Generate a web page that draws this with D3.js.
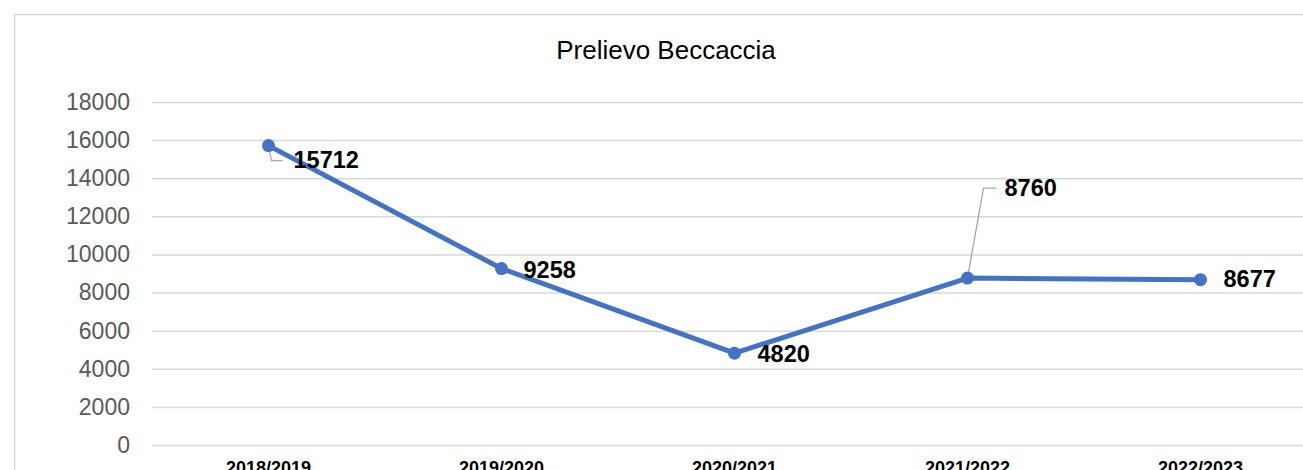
<!DOCTYPE html>
<html>
<head>
<meta charset="utf-8">
<script src="https://cdn.jsdelivr.net/npm/d3@7"></script>
<style>
  body { margin: 0; background: #fff; }
  svg { display: block; font-family: "Liberation Sans", Arial, sans-serif; }
</style>
</head>
<body>
<script>
// data
const seasons = ['2018/2019', '2019/2020', '2020/2021', '2021/2022', '2022/2023'];
const prelievo = [15712, 9258, 4820, 8760, 8677];
const yTicks = [0, 2000, 4000, 6000, 8000, 10000, 12000, 14000, 16000, 18000];

// label placement (pixel offsets from each point)
const labelDx = [25, 22, 23, 37, 23];
const labelDy = [22, 9.5, 9, -82, 7.5];

const W = 1303, H = 470;
const svg = d3.select('body')
  .append('svg')
    .attr('width', W)
    .attr('height', H);

const margin = {top: 102, left: 152, bottom: 25};
const plotW = 1165;
const plotH = 343;

// chart frame
svg.append('rect')
  .attr('x', 14.5).attr('y', 14.5)
  .attr('width', 1340).attr('height', 500)
  .attr('fill', 'none')
  .attr('stroke', '#d9d9d9')
  .attr('stroke-width', 1.5);

svg.append('text')
  .attr('x', 666).attr('y', 59)
  .attr('text-anchor', 'middle')
  .attr('font-size', 26)
  .attr('fill', '#000')
  .text('Prelievo Beccaccia');

const x = d3.scaleBand()
  .domain(seasons)
  .range([margin.left, margin.left + plotW]);

const y = d3.scaleLinear()
  .domain([0, 18000])
  .range([margin.top + plotH, margin.top]);

const cx = (d, i) => x(seasons[i]) + x.bandwidth() / 2;

// gridlines + y labels
const yAxis = svg.append('g')
  .attr('transform', 'translate(' + margin.left + ',0)')
  .call(d3.axisLeft(y).tickValues(yTicks).tickFormat(d3.format('d')).tickSize(-plotW).tickPadding(22));
yAxis.select('.domain').remove();
yAxis.selectAll('line').attr('stroke', '#d9d9d9').attr('stroke-width', 1.5);
yAxis.selectAll('text')
  .attr('font-size', 23)
  .attr('font-family', '"Liberation Sans", Arial, sans-serif')
  .attr('fill', '#595959');

// x labels
const xAxis = svg.append('g')
  .attr('transform', 'translate(0,' + (margin.top + plotH) + ')')
  .call(d3.axisBottom(x).tickSize(0).tickPadding(16));
xAxis.select('.domain').remove();
xAxis.selectAll('text')
  .attr('font-size', 18)
  .attr('font-weight', 'bold')
  .attr('font-family', '"Liberation Sans", Arial, sans-serif')
  .attr('fill', '#000');

// line
const line = d3.line()
  .x((d, i) => cx(d, i))
  .y(d => y(d));

svg.append('path')
  .datum(prelievo)
  .attr('d', line)
  .attr('fill', 'none')
  .attr('stroke', '#4472c4')
  .attr('stroke-width', 5)
  .attr('stroke-linejoin', 'round');

// leader lines for the two displaced labels
const leaders = svg.append('g').attr('fill', 'none').attr('stroke', '#a6a6a6').attr('stroke-width', 1.3);
leaders.append('path')
  .attr('d', () => {
    const px = cx(0, 0), py = y(prelievo[0]);
    return 'M' + (px + 1) + ',' + (py + 6) + 'L' + (px + 3) + ',' + (py + 15) + 'L' + (px + 14) + ',' + (py + 15);
  });
leaders.append('path')
  .attr('d', () => {
    const px = cx(0, 3), py = y(prelievo[3]);
    return 'M' + px + ',' + py + 'L' + (px + 16) + ',' + (py - 90) + 'L' + (px + 29) + ',' + (py - 90);
  });

// markers
svg.append('g').selectAll('circle')
  .data(prelievo)
  .join('circle')
    .attr('cx', (d, i) => cx(d, i))
    .attr('cy', d => y(d))
    .attr('r', 6.5)
    .attr('fill', '#4472c4');

// value labels
svg.append('g').selectAll('text')
  .data(prelievo)
  .join('text')
    .attr('x', (d, i) => cx(d, i) + labelDx[i])
    .attr('y', (d, i) => y(d) + labelDy[i])
    .attr('font-size', 23.5)
    .attr('font-weight', 'bold')
    .attr('fill', '#000')
    .text(d => d);
</script>
</body>
</html>
